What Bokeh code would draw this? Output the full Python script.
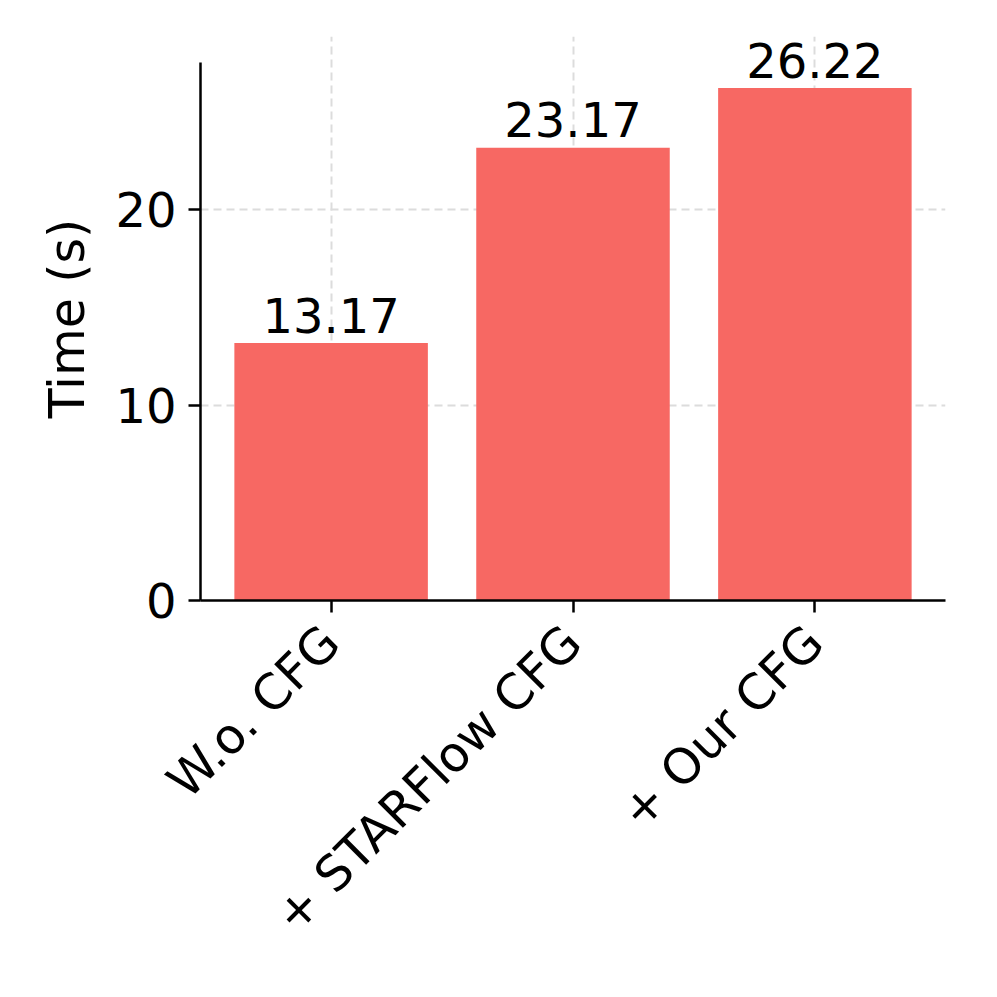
import math
from bokeh.plotting import figure
from bokeh.models import FactorRange, Range1d, FixedTicker, ColumnDataSource
from bokeh.core.properties import value
from bokeh.embed import file_html
from bokeh.resources import INLINE

categories = ["W.o. CFG", "+ STARFlow CFG", "+ Our CFG"]
times = [13.17, 23.17, 26.22]
labels = ["13.17", "23.17", "26.22"]
y_ticks = [0, 10, 20]

FONT = "DejaVu Sans"
FS = "48px"
BAR = "#F76863"
Y_AXIS_TOP = 27.53          # where the left spine ends (matplotlib 5% margin)
Y_VIEW_TOP = 28.86          # a bit of head room so the top value label fits

src = ColumnDataSource(dict(cat=categories, t=times, lab=labels))

p = figure(
    width=981, height=981,
    x_range=FactorRange(factors=categories, range_padding=0.08 / 3),
    y_range=Range1d(0, Y_VIEW_TOP),
    output_backend="svg", toolbar_location=None,
    min_border_left=200, min_border_right=36,
    min_border_top=36, min_border_bottom=381,
)
p.outline_line_color = None
p.background_fill_color = "white"
p.border_fill_color = "white"

p.vbar(x="cat", top="t", width=0.8, source=src, fill_color=BAR, line_color=None)
p.text(x="cat", y="t", text="lab", source=src, text_align="center",
       text_baseline="alphabetic", y_offset=-28, text_font=value(FONT),
       text_font_size=FS, text_color="black")

# axes
for ax in (p.xaxis[0], p.yaxis[0]):
    ax.axis_line_color = "black"
    ax.axis_line_width = 2.5
    ax.major_tick_line_color = "black"
    ax.major_tick_line_width = 2.5
    ax.major_tick_out = 12
    ax.major_tick_in = 0
    ax.minor_tick_line_color = None
    ax.major_label_text_font = FONT
    ax.major_label_text_font_size = FS
    ax.major_label_text_color = "black"

p.yaxis.ticker = FixedTicker(ticks=y_ticks)
p.yaxis.bounds = (0, Y_AXIS_TOP)
p.yaxis.major_label_standoff = 12
p.yaxis.axis_label = "Time (s)"
p.yaxis.axis_label_text_font = FONT
p.yaxis.axis_label_text_font_size = "49px"
p.yaxis.axis_label_text_font_style = "normal"
p.yaxis.axis_label_text_color = "black"
p.yaxis.axis_label_standoff = 16

p.xaxis.major_label_orientation = math.pi / 4
p.xaxis.major_label_text_font_size = "49px"
p.xaxis.major_label_standoff = 22

for g in (p.xgrid[0], p.ygrid[0]):
    g.grid_line_color = "#dcdcdc"
    g.grid_line_width = 2
    g.grid_line_dash = "8 5"
p.ygrid.ticker = FixedTicker(ticks=y_ticks)

open("out.html", "w").write(file_html(p, INLINE))
